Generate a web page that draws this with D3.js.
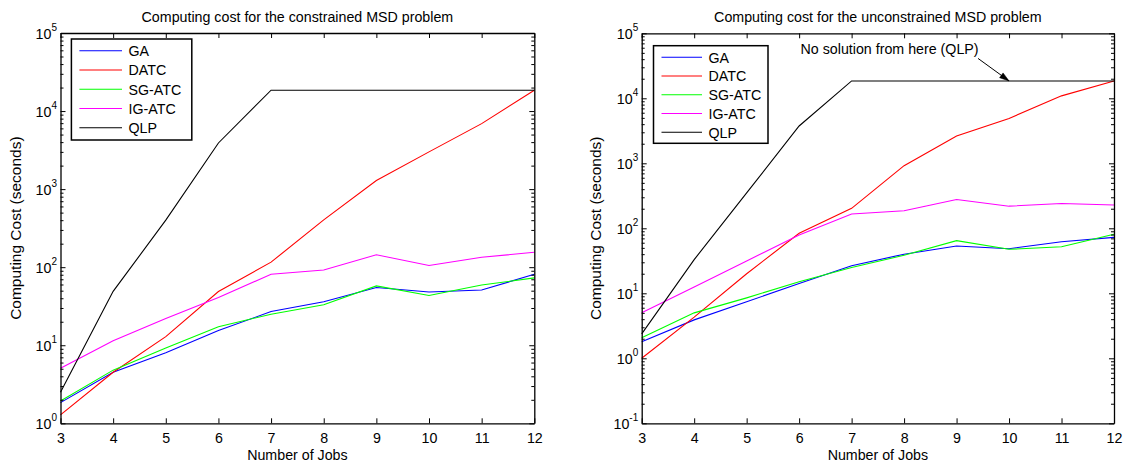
<!DOCTYPE html>
<html>
<head>
<meta charset="utf-8">
<script src="https://cdn.jsdelivr.net/npm/d3@7"></script>
<style>
body { margin: 0; background: #fff; }
svg text { font-family: "Liberation Sans", Arial, Helvetica, sans-serif; fill: #000; }
</style>
</head>
<body>
<svg id="chart" width="1126" height="466"></svg>
<script>
// x values shared by both panels
var jobs = [3, 4, 5, 6, 7, 8, 9, 10, 11, 12];

var seriesNames = ['GA', 'DATC', 'SG-ATC', 'IG-ATC', 'QLP'];
var seriesColors = ['#0000ff', '#ff0000', '#00ff00', '#ff00ff', '#000000'];

// constrained problem (left)
var consGA    = [1.84, 4.5, 8.0, 15.4, 27, 36, 55, 48, 51, 81];
var consDATC  = [1.28, 4.5, 12.9, 48.7, 116, 404, 1290, 3000, 6900, 18500];
var consSGATC = [1.93, 4.8, 9.2, 17.3, 25, 33, 57.5, 43.4, 59, 73];
var consIGATC = [5.07, 11.4, 22, 41, 81, 92, 144, 105, 134, 155];
var consQLP   = [2.5, 49, 400, 3900, 18500, 18500, 18500, 18500, 18500, 18500];

// unconstrained problem (right)
var unconGA    = [1.8, 3.9, 7.4, 14.2, 26.6, 40, 53.5, 48.5, 62, 72.5];
var unconDATC  = [1.0, 4.3, 20, 84, 203, 920, 2630, 4900, 10900, 18500];
var unconSGATC = [2.07, 5.0, 8.5, 15.1, 25, 38.5, 64.5, 47.5, 52, 81];
var unconIGATC = [5.0, 12.5, 31.5, 79, 166, 186, 278, 219, 241, 228];
var unconQLP   = [2.37, 33, 350, 3750, 18500, 18500, 18500, 18500, 18500, 18500];

var consTicksY = [1, 10, 100, 1000, 10000, 100000];
var unconTicksY = [0.1, 1, 10, 100, 1000, 10000, 100000];
var ticksX = [3, 4, 5, 6, 7, 8, 9, 10, 11, 12];

var titles = ['Computing cost for the constrained MSD problem',
              'Computing cost for the unconstrained MSD problem'];
var xLabel = 'Number of Jobs';
var yLabel = 'Computing Cost (seconds)';
var noteText = 'No solution from here (QLP)';
var noteJob = 10;

// the figure text is a little narrow, squeeze it horizontally
var SX = 0.95;
var FS = 15;

var svg = d3.select('#chart');

function label(parent, x, y, str, anchor, size) {
    var t = parent.append('g')
        .attr('transform', 'translate(' + x + ',' + y + ') scale(' + SX + ',1)')
        .append('text')
        .attr('text-anchor', anchor || 'start')
        .attr('font-size', size || FS);
    if (str !== null) t.text(str);
    return t;
}

function minorTicks(majors) {
    var out = [];
    for (var i = 0; i < majors.length - 1; i++) {
        for (var k = 2; k <= 9; k++) out.push(majors[i] * k);
    }
    return out;
}

function drawPanel(cfg) {
    var g = svg.append('g');
    var x = d3.scaleLinear().domain([3, 12]).range([cfg.left, cfg.right]);
    var y = d3.scaleLog().domain([cfg.yTicks[0], cfg.yTicks[cfg.yTicks.length - 1]])
        .range([cfg.bottom, cfg.top]);

    // series first, box drawn over them
    var line = d3.line()
        .x(function(d, i) { return x(jobs[i]); })
        .y(function(d) { return y(d); });
    cfg.series.forEach(function(vals, i) {
        g.append('path')
            .datum(vals)
            .attr('d', line)
            .attr('fill', 'none')
            .attr('stroke', seriesColors[i])
            .attr('stroke-width', 1.1);
    });

    // box + inward ticks
    var minors = minorTicks(cfg.yTicks);
    g.append('g').attr('class', 'xaxis').attr('transform', 'translate(0,' + cfg.bottom + ')')
        .call(d3.axisBottom(x).tickValues(ticksX).tickSize(-5).tickSizeOuter(0).tickPadding(9));
    g.append('g').attr('transform', 'translate(0,' + cfg.top + ')')
        .call(d3.axisTop(x).tickValues(ticksX).tickSize(-5).tickSizeOuter(0).tickFormat(''));
    g.append('g').attr('transform', 'translate(' + cfg.left + ',0)')
        .call(d3.axisLeft(y).tickValues(cfg.yTicks).tickSize(-5).tickSizeOuter(0).tickFormat(''));
    g.append('g').attr('transform', 'translate(' + cfg.right + ',0)')
        .call(d3.axisRight(y).tickValues(cfg.yTicks).tickSize(-5).tickSizeOuter(0).tickFormat(''));
    g.append('g').attr('transform', 'translate(' + cfg.left + ',0)')
        .call(d3.axisLeft(y).tickValues(minors).tickSize(-3).tickSizeOuter(0).tickFormat(''))
        .select('.domain').remove();
    g.append('g').attr('transform', 'translate(' + cfg.right + ',0)')
        .call(d3.axisRight(y).tickValues(minors).tickSize(-3).tickSizeOuter(0).tickFormat(''))
        .select('.domain').remove();

    g.selectAll('.domain').attr('stroke', '#000').attr('stroke-width', 1.3);
    g.selectAll('.tick line').attr('stroke', '#000').attr('stroke-width', 1);
    g.selectAll('.xaxis text')
        .attr('font-size', FS)
        .attr('font-family', '"Liberation Sans", Arial, sans-serif')
        .attr('fill', '#000')
        .attr('transform', 'scale(' + SX + ',1)');

    // y tick labels as 10^n
    cfg.yTicks.forEach(function(v) {
        var t = label(g, cfg.left - 3.5, y(v) + 5.5, null, 'end');
        t.append('tspan').text('10');
        t.append('tspan').attr('dy', -8).attr('font-size', 10.5)
            .text(Math.round(Math.log10(v)));
    });

    // titles / labels
    var cx = (cfg.left + cfg.right) / 2;
    label(g, cx, 22, cfg.title, 'middle');
    label(g, cx, 460, xLabel, 'middle');
    g.append('text')
        .attr('transform', 'translate(' + cfg.ylabX + ',' + ((cfg.top + cfg.bottom) / 2) + ') scale(' + SX + ',1) rotate(-90)')
        .attr('text-anchor', 'middle')
        .attr('font-size', 15.5).text(yLabel);

    // legend
    var lg = g.append('g').attr('transform', 'translate(' + cfg.leg.x + ',' + cfg.leg.y + ')');
    lg.append('rect')
        .attr('width', cfg.leg.w).attr('height', cfg.leg.h)
        .attr('fill', '#fff').attr('stroke', '#000').attr('stroke-width', 1.5);
    seriesNames.forEach(function(name, i) {
        var ey = cfg.leg.pad + i * cfg.leg.step;
        lg.append('line')
            .attr('x1', 8).attr('x2', cfg.leg.lineEnd)
            .attr('y1', ey).attr('y2', ey)
            .attr('stroke', seriesColors[i]).attr('stroke-width', 1.1);
        label(lg, cfg.leg.lineEnd + 6.5, ey + 5.3, name, 'start');
    });

    return { x: x, y: y, g: g };
}

drawPanel({
    left: 60.5, right: 534.3, top: 33, bottom: 423.3,
    yTicks: consTicksY,
    series: [consGA, consDATC, consSGATC, consIGATC, consQLP],
    title: titles[0], ylabX: 20.5,
    leg: { x: 71.4, y: 39, w: 120.4, h: 101, pad: 11.7, step: 19.25, lineEnd: 50.6 }
});

var p2 = drawPanel({
    left: 641.7, right: 1114, top: 33.3, bottom: 423.3,
    yTicks: unconTicksY,
    series: [unconGA, unconDATC, unconSGATC, unconIGATC, unconQLP],
    title: titles[1], ylabX: 601,
    leg: { x: 653.5, y: 45.7, w: 114.5, h: 97.6, pad: 11.6, step: 18.75, lineEnd: 48.5 }
});

// annotation arrow pointing at the QLP plateau
var tipX = p2.x(noteJob), tipY = p2.y(unconQLP[jobs.indexOf(noteJob)]);
var startX = tipX - 31, startY = tipY - 22.5;
label(p2.g, startX + 0.5, startY - 4.3, noteText, 'end');
p2.g.append('line')
    .attr('x1', startX).attr('y1', startY).attr('x2', tipX).attr('y2', tipY)
    .attr('stroke', '#000').attr('stroke-width', 1);
var ang = Math.atan2(tipY - startY, tipX - startX);
var headLen = 10, spread = 0.3;
var hp = [
    [tipX, tipY],
    [tipX - headLen * Math.cos(ang - spread), tipY - headLen * Math.sin(ang - spread)],
    [tipX - headLen * Math.cos(ang + spread), tipY - headLen * Math.sin(ang + spread)]
];
p2.g.append('path')
    .attr('d', 'M' + hp.map(function(p) { return p.join(','); }).join('L') + 'Z')
    .attr('fill', '#000').attr('stroke', '#000').attr('stroke-width', 0.5);
</script>
</body>
</html>
